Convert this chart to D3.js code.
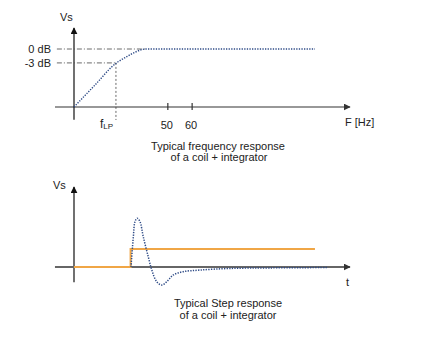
<!DOCTYPE html>
<html><head><meta charset="utf-8">
<script src="https://cdn.jsdelivr.net/npm/d3@7"></script>
<style>body{margin:0;background:#fff}svg{display:block}text{font-family:"Liberation Sans",Arial,sans-serif;fill:#222}</style>
</head><body>
<script>
// ---- data ----
// Frequency response (arbitrary frequency units u, normalized magnitude v)
const freqU = [0, 7.6, 15.2, 17.0, 19.1, 20.9, 22.7, 24.3, 26.1, 87.3];
const freqV = [0, 0.379, 0.753, 0.81, 0.867, 0.917, 0.957, 0.986, 1, 1];
const levelLabels = ["0 dB", "-3 dB"];
const levelValues = [1, 0.76];
const fLP = 15.2;
const tickLabels = ["50", "60"];
const tickPos = [34.0, 42.8];
// Step response (arbitrary time units)
const stepT = [20.65, 21.5, 22.1, 22.9, 23.9, 25.1, 26.9, 28.2, 30.0, 31.8, 33.6, 36.0, 39.6, 45.7, 56.5, 71, 92];
const stepV = [0, 1.68, 2.52, 2.71, 2.52, 1.68, 0.57, -0.17, -0.82, -1.0, -0.82, -0.44, -0.26, -0.17, -0.08, -0.05, -0.03];
const inputT = [0, 20.5, 20.5, 87.3];
const inputV = [0, 0, 1, 1];

const W = 421, H = 356;
const svg = d3.select("body").append("svg").attr("width", W).attr("height", H);
const defs = svg.append("defs");
function marker(id, color){
  defs.append("marker").attr("id", id).attr("viewBox","0 0 10 10").attr("refX",9).attr("refY",5)
    .attr("markerWidth",7).attr("markerHeight",7).attr("markerUnits","userSpaceOnUse").attr("orient","auto")
    .append("path").attr("d","M0,0L10,5L0,10Z").attr("fill", color);
}
marker("arrK", "#111");
marker("arrG", "#333");

const blue = "#2d4a86", orange = "#f0a646";

// ---------- top chart ----------
const x1 = d3.scaleLinear().domain([0,100]).range([74,350]);
const y1 = d3.scaleLinear().domain([0,1]).range([107,49]);
const g1 = svg.append("g");
// axes
g1.append("line").attr("x1", x1(-6.9)).attr("x2", x1(100)).attr("y1", y1(0)).attr("y2", y1(0))
  .attr("stroke","#333").attr("stroke-width",1.2).attr("marker-end","url(#arrG)");
g1.append("line").attr("x1", x1(0)).attr("x2", x1(0)).attr("y1", y1(-0.22)).attr("y2", 28)
  .attr("stroke","#111").attr("stroke-width",1.2).attr("marker-end","url(#arrK)");
g1.append("text").attr("x",60).attr("y",21).attr("font-size",11).text("Vs");
// level lines
levelValues.forEach((v,i)=>{
  const xe = i===0 ? x1(26.1) : x1(fLP);
  g1.append("line").attr("x1", x1(-6.2)).attr("x2", xe).attr("y1", y1(v)).attr("y2", y1(v))
    .attr("stroke","#444").attr("stroke-width",0.8).attr("stroke-dasharray","5,2,1,2");
  g1.append("text").attr("x", 51).attr("y", y1(v)+4).attr("text-anchor","end").attr("font-size",11).text(levelLabels[i]);
});
g1.append("line").attr("x1", x1(fLP)).attr("x2", x1(fLP)).attr("y1", y1(levelValues[1])).attr("y2", 120)
  .attr("stroke","#444").attr("stroke-width",0.8).attr("stroke-dasharray","2,2");
// ticks
tickPos.forEach((p,i)=>{
  g1.append("line").attr("x1", x1(p)).attr("x2", x1(p)).attr("y1", 103).attr("y2", 110)
    .attr("stroke","#333").attr("stroke-width",1.2);
  g1.append("text").attr("x", x1(p)-1).attr("y",129).attr("text-anchor","middle").attr("font-size",11).text(tickLabels[i]);
});
const fl = g1.append("text").attr("x",100).attr("y",128).attr("font-size",12);
fl.append("tspan").text("f");
fl.append("tspan").attr("font-size",8).attr("dy",1).text("LP");
g1.append("text").attr("x",345).attr("y",126).attr("font-size",11).text("F [Hz]");
// curve
g1.append("path").datum(freqU.map((u,i)=>[u,freqV[i]]))
  .attr("d", d3.line().x(d=>x1(d[0])).y(d=>y1(d[1])).curve(d3.curveMonotoneX))
  .attr("fill","none").attr("stroke",blue).attr("stroke-width",1.4).attr("stroke-dasharray","1.3,1.3");
g1.append("text").attr("x",218).attr("y",150).attr("text-anchor","middle").attr("font-size",11).text("Typical frequency response");
g1.append("text").attr("x",219).attr("y",161).attr("text-anchor","middle").attr("font-size",11).text("of a coil + integrator");

// ---------- bottom chart ----------
const x2 = d3.scaleLinear().domain([0,100]).range([74,350]);
const y2 = d3.scaleLinear().domain([0,1]).range([267,249]);
const g2 = svg.append("g");
g2.append("line").attr("x1", x2(0)).attr("x2", x2(0)).attr("y1", y2(-0.85)).attr("y2", 187)
  .attr("stroke","#111").attr("stroke-width",1.2).attr("marker-end","url(#arrK)");
g2.append("line").attr("x1", x2(-6.9)).attr("x2", x2(100)).attr("y1", y2(0)).attr("y2", y2(0))
  .attr("stroke","#666").attr("stroke-width",2).attr("marker-end","url(#arrG)");
g2.append("path").datum(inputT.map((t,i)=>[t,inputV[i]]))
  .attr("d", d3.line().x(d=>x2(d[0])).y(d=>y2(d[1])))
  .attr("fill","none").attr("stroke",orange).attr("stroke-width",2);
g2.append("path").datum(stepT.map((t,i)=>[t,stepV[i]]))
  .attr("d", d3.line().x(d=>x2(d[0])).y(d=>y2(d[1])).curve(d3.curveCatmullRom))
  .attr("fill","none").attr("stroke",blue).attr("stroke-width",1.5).attr("stroke-dasharray","1.3,1.3");
g2.append("text").attr("x",53).attr("y",189).attr("font-size",11).text("Vs");
g2.append("text").attr("x",346).attr("y",286).attr("font-size",11).text("t");
g2.append("text").attr("x",228).attr("y",307).attr("text-anchor","middle").attr("font-size",11).text("Typical Step response");
g2.append("text").attr("x",228).attr("y",319).attr("text-anchor","middle").attr("font-size",11).text("of a coil + integrator");
</script>
</body></html>
